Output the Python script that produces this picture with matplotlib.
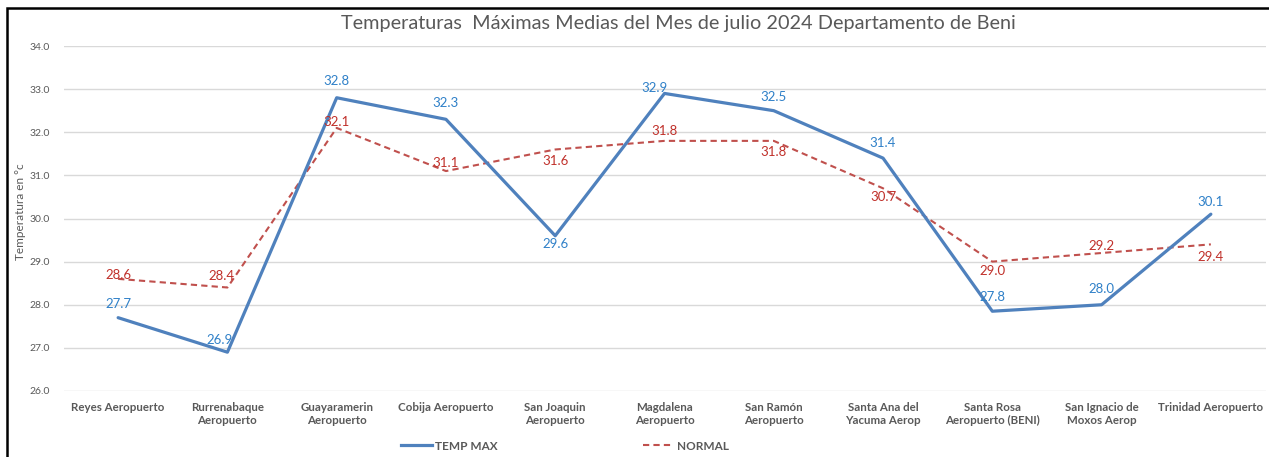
import matplotlib
matplotlib.use("Agg")
import matplotlib.pyplot as plt
from matplotlib.patches import Rectangle
from matplotlib.lines import Line2D

plt.rcParams['font.family'] = ['Lato', 'DejaVu Sans']

stations = ["Reyes Aeropuerto", "Rurrenabaque\nAeropuerto", "Guayaramerin\nAeropuerto",
            "Cobija Aeropuerto", "San Joaquin\nAeropuerto", "Magdalena\nAeropuerto",
            "San Ramón\nAeropuerto", "Santa Ana del\nYacuma Aerop", "Santa Rosa\nAeropuerto (BENI)",
            "San Ignacio de\nMoxos Aerop", "Trinidad Aeropuerto"]
temp_max = [27.7, 26.9, 32.8, 32.3, 29.6, 32.9, 32.5, 31.4, 27.85, 28.0, 30.1]
temp_max_labels = ["27.7", "26.9", "32.8", "32.3", "29.6", "32.9", "32.5", "31.4", "27.8", "28.0", "30.1"]
normal = [28.6, 28.4, 32.1, 31.1, 31.6, 31.8, 31.8, 30.7, 29.0, 29.2, 29.4]
normal_labels = ["28.6", "28.4", "32.1", "31.1", "31.6", "31.8", "31.8", "30.7", "29.0", "29.2", "29.4"]
yticks = [26.0, 27.0, 28.0, 29.0, 30.0, 31.0, 32.0, 33.0, 34.0]

# label placement (style)
tm_pos = [(0, 10), (-6, 9), (0, 12), (0, 12), (0, -6), (-7, 4), (0, 10), (0, 11), (0, 10), (0, 11), (0, 9)]
nm_pos = [(0, 3), (-4, 8), (0, 4), (0, 6), (0, -8), (0, 7), (0, -8), (0, -6), (0, -7), (0, 5), (0, -9)]

W, H = 1269, 457
fig = plt.figure(figsize=(W / 100, H / 100), dpi=100)
ax = fig.add_axes([63.5 / W, 1 - 391 / H, (1265.5 - 63.5) / W, (391 - 46) / H])

x = list(range(len(stations)))
blue = "#4F81BD"
red = "#C0504D"
gray = "#595959"

ax.plot(x, temp_max, color=blue, lw=2.3, solid_capstyle='round', zorder=3)
ax.plot(x, normal, color=red, lw=1.5, ls=(0, (3, 2)), zorder=2)

for xi, v, lab, off in zip(x, temp_max, temp_max_labels, tm_pos):
    ax.annotate(lab, (xi, v), xytext=off, textcoords='offset points',
                ha='center', va='center', fontsize=9.5, color="#2F80C8", zorder=5)
for xi, v, lab, off in zip(x, normal, normal_labels, nm_pos):
    ax.annotate(lab, (xi, v), xytext=off, textcoords='offset points',
                ha='center', va='center', fontsize=9.5, color="#C0302A", zorder=5)

ax.set_xlim(-0.5, len(stations) - 0.5)
ax.set_ylim(26, 34)
ax.set_yticks(yticks)
ax.set_yticklabels([f"{t:.1f}" for t in yticks], fontsize=7.5, color=gray)
ax.set_xticks(x)
ax.set_xticklabels(stations, fontsize=8.3, color=gray, fontweight='bold')
ax.tick_params(axis='both', length=0)
ax.tick_params(axis='x', pad=8)
ax.tick_params(axis='y', pad=10)
ax.grid(axis='y', color="#D9D9D9", lw=1)
ax.set_axisbelow(True)
for s in ax.spines.values():
    s.set_visible(False)

ax.set_ylabel("Temperatura en °c", fontsize=8.5, color=gray, labelpad=4)
ax.yaxis.set_label_coords(-0.031, 0.52)

fig.text(0.535, 1 - 23 / H, "Temperaturas  Máximas Medias del Mes de julio 2024 Departamento de Beni",
         ha='center', va='center', fontsize=14.3, color=gray)

handles = [Line2D([], [], color=blue, lw=2.3), Line2D([], [], color=red, lw=1.5, ls=(0, (3, 2)))]
leg = fig.legend(handles, ["TEMP MAX", "NORMAL"], loc='center', bbox_to_anchor=(0.445, 1 - 446 / H),
                 ncol=2, frameon=False, fontsize=8.5, handlelength=2.7, columnspacing=12.3,
                 handletextpad=0.2)
for t in leg.get_texts():
    t.set_color(gray)
    t.set_fontweight('bold')

fig.patches.append(Rectangle((7 / W, -0.1), 2, (H - 8) / H + 0.1, transform=fig.transFigure,
                             fill=False, edgecolor='black', lw=1.8, zorder=10))

fig.savefig("out.png", dpi=100)
